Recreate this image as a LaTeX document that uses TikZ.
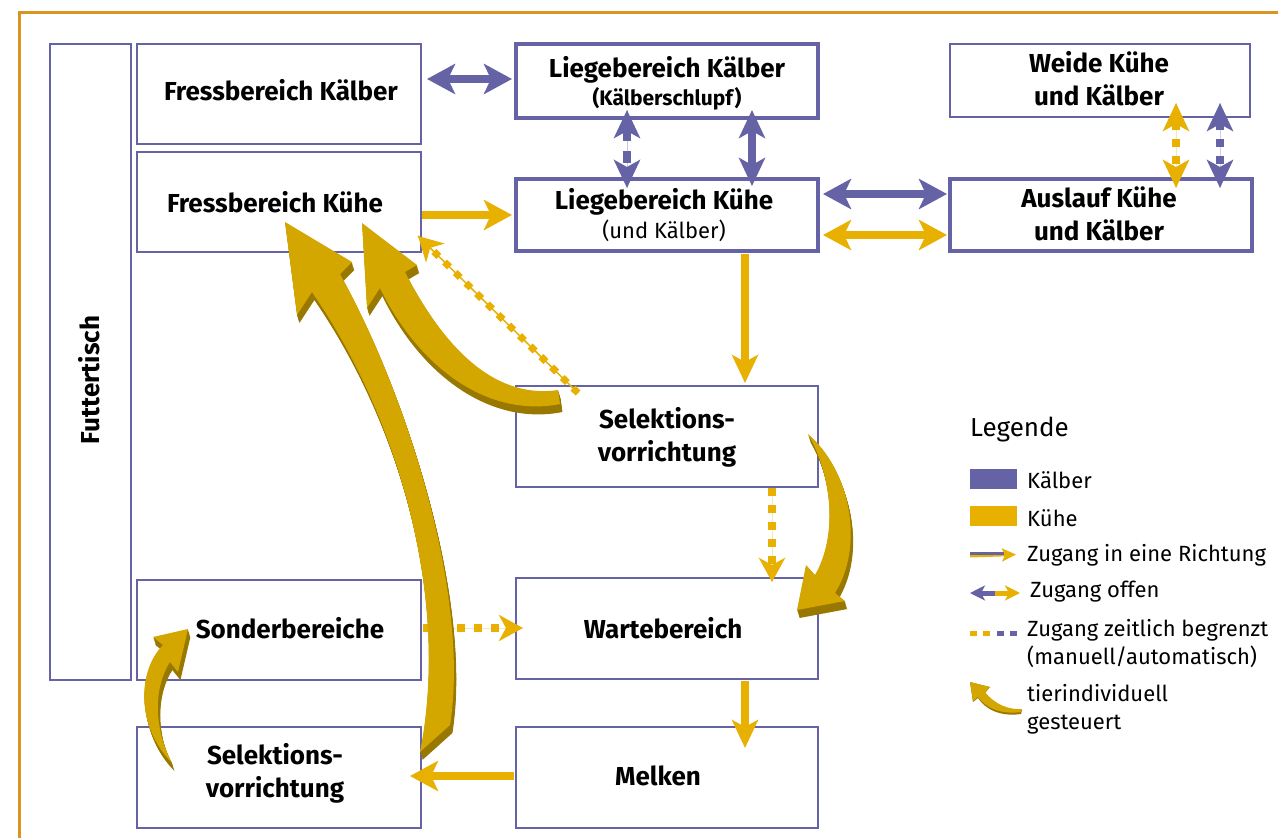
\documentclass[tikz,border=0pt]{standalone}
\usepackage{fontspec}
\setmainfont{Fira Sans}
\usetikzlibrary{arrows.meta,calc}
\definecolor{purp}{RGB}{101,99,165}
\definecolor{cow}{RGB}{232,176,0}
\definecolor{gold}{RGB}{212,166,0}
\definecolor{golddk}{RGB}{152,120,0}
\definecolor{framec}{RGB}{218,148,32}
\newcommand\goldarrow[1]{%
  \foreach \k in {8,7,...,1}{\fill[golddk, shift={(0.3*\k,\k)}] #1;}
  \fill[gold] #1;}
\tikzset{
  bt/.tip={Stealth[length=28pt,width=30pt,inset=7pt]},
  vt/.tip={Stealth[length=28pt,width=26pt,inset=7pt]},
  st/.tip={Stealth[length=24pt,width=26pt,inset=7pt]},
}
\begin{document}
\begin{tikzpicture}[x=1pt,y=-1pt,
  box/.style={draw=purp, line width=1.5pt, fill=white, outer sep=0pt, inner sep=0pt},
  tbox/.style={box, line width=3.5pt},
  lbl/.style={font=\bfseries\fontsize{26}{33}\selectfont, align=center, inner sep=0pt},
  subb/.style={font=\bfseries\fontsize{21}{24}\selectfont, inner sep=0pt},
  subr/.style={font=\fontsize{22}{25}\selectfont, inner sep=0pt},
  leg/.style={font=\fontsize{22}{28}\selectfont, anchor=west, inner sep=0pt, align=left},
  parr/.style={draw=purp, line width=8pt},
  carr/.style={draw=cow, line width=8pt},
  dsq/.style={line width=8pt, dash pattern=on 8pt off 9pt},
]
\clip (0,0) rectangle (1278,838);
\fill[white] (0,0) rectangle (1278,838);
\draw[framec, line width=3pt] (19.5,1000) -- (19.5,12.5) -- (1400,12.5);

% boxes
\node[box, minimum width=81pt, minimum height=636pt] (ft) at (90.5,362) {};
\node[box, minimum width=284pt, minimum height=100pt] (fk) at (279,94) {};
\node[box, minimum width=284pt, minimum height=100pt] (fkue) at (279,202) {};
\node[tbox, minimum width=302pt, minimum height=74pt] (lk) at (667,81) {};
\node[tbox, minimum width=302pt, minimum height=72pt] (lkue) at (667,215) {};
\node[box, minimum width=300pt, minimum height=73pt] (weide) at (1100,80.5) {};
\node[tbox, minimum width=302pt, minimum height=72pt] (aus) at (1101,215) {};
\node[box, minimum width=302pt, minimum height=101pt] (sel1) at (667,436.5) {};
\node[box, minimum width=284pt, minimum height=100pt] (sond) at (279,630) {};
\node[box, minimum width=302pt, minimum height=101pt] (wart) at (667,628.5) {};
\node[box, minimum width=284pt, minimum height=101pt] (sel2) at (279,777.5) {};
\node[box, minimum width=302pt, minimum height=101pt] (melk) at (667,777.5) {};

% texts
\node[lbl, rotate=90] (t-ft) at (89,380) {Futtertisch};
\node[lbl] (t-fk) at (281,90) {Fressbereich Kälber};
\node[lbl] (t-fkue) at (275,202) {Fressbereich Kühe};
\node[lbl] (t-lk1) at (667,70) {Liegebereich Kälber};
\node[subb] (t-lk2) at (667,99) {(Kälberschlupf)};
\node[lbl] (t-lkue1) at (664,202) {Liegebereich Kühe};
\node[subr] (t-lkue2) at (664,231) {(und Kälber)};
\node[lbl] (t-weide) at (1099,79) {Weide Kühe\\und Kälber};
\node[lbl] (t-aus) at (1099,214) {Auslauf Kühe\\und Kälber};
\node[lbl] (t-sel1) at (667,437) {Selektions-\\vorrichtung};
\node[lbl] (t-wart) at (663,628) {Wartebereich};
\node[lbl] (t-sond) at (290,628) {Sonderbereiche};
\node[lbl] (t-sel2) at (275,773) {Selektions-\\vorrichtung};
\node[lbl] (t-melk) at (658,776) {Melken};

% connectors
\draw[parr, bt-bt] ($(fk.east)+(6,-15)$) -- ($(lk.west)+(-4,-2)$);
\draw[parr, vt-vt, dash pattern=on 12pt off 10pt, preaction={draw=purp!35, line width=1pt, solid, -}] ($(lk.south)+(-40,-8)$) -- ($(lkue.north)+(-40,9)$);
\draw[parr, vt-vt] ($(lk.south)+(85,-8)$) -- ($(lkue.north)+(85,7)$);
\draw[carr, -bt] ($(fkue.east)+(1,13)$) -- ($(lkue.west)+(-4,0)$);
\draw[parr, bt-bt] ($(lkue.east)+(5,-21)$) -- ($(aus.west)+(-3,-21)$);
\draw[carr, bt-bt] ($(lkue.east)+(5,20)$) -- ($(aus.west)+(-3,20)$);
\draw[draw=cow, dsq, vt-vt, preaction={draw=cow!30, line width=1pt, solid, -}] ($(weide.south)+(76,-14)$) -- ($(aus.north)+(75,9)$);
\draw[draw=purp, dsq, vt-vt, preaction={draw=purp!30, line width=1pt, solid, -}] ($(weide.south)+(120,-14)$) -- ($(aus.north)+(119,9)$);
\draw[carr, -vt] ($(lkue.south)+(78,3)$) -- ($(sel1.north)+(78,-3)$);
\draw[draw=cow, line width=7pt, dash pattern=on 7pt off 8pt, -{Stealth[length=24pt,width=26pt,inset=7pt]}, preaction={draw=cow, line width=1.5pt, solid, -}] ($(sel1.north west)+(62,7)$) -- ($(fkue.south east)+(-3,-16)$);
\draw[draw=cow, dsq, -st, preaction={draw=cow!30, line width=1pt, solid, -}] ($(sel1.south)+(105,1)$) -- ($(wart.north)+(105,4)$);
\draw[draw=cow, dsq, -st, preaction={draw=cow!30, line width=1pt, solid, -}] ($(sond.east)+(2,-2)$) -- ($(wart.west)+(7,-0.5)$);
\draw[carr, -vt] ($(wart.south)+(78,2)$) -- ($(melk.north)+(78,21)$);
\draw[carr, -bt] ($(melk.west)+(-2,-1.5)$) -- ($(sel2.east)+(-11,-1.5)$);

% individually steered 3D arrows
\goldarrow{(285,222) -- (352,262) -- (340,274) .. controls (410,400) and (470,600) .. (450,725) -- (420,752) .. controls (450,600) and (400,420) .. (312,292) -- (297,315) -- cycle}
\goldarrow{(362,223) -- (417,265) -- (405,272) .. controls (440,340) and (490,400) .. (558,390) -- (560,404) .. controls (490,418) and (420,370) .. (380,288) -- (367,308) -- cycle}
\goldarrow{(808,434) .. controls (850,470) and (865,545) .. (835,593) -- (845,601) -- (797,610) -- (806,565) -- (815,575) .. controls (838,535) and (832,475) .. (808,434) -- cycle}
\goldarrow{(172,763) .. controls (152,725) and (155,685) .. (170,662) -- (178,672) -- (188,629) -- (153,637) -- (163,645) .. controls (138,670) and (135,725) .. (172,763) -- cycle}

% legend
\node[leg, font=\fontsize{26}{30}\selectfont] (l-title) at (970,430) {Legende};
\fill[purp] (970,469) rectangle (1017,489);
\fill[cow] (970,506) rectangle (1017,526);
\node[leg] (l-k) at (1027,480) {Kälber};
\node[leg] (l-c) at (1027,518) {Kühe};
\draw[cow, line width=3pt, -{Stealth[length=14pt,width=13pt,inset=3pt]}] (970,556) -- (1016,554.5);
\draw[purp, line width=3pt] (970,553) -- (1004,553);
\node[leg] (l-r) at (1027,555) {Zugang in eine Richtung};
\draw[purp, line width=5pt, {Stealth[length=15pt,width=15pt,inset=4pt]}-] (970,593) -- (996,593);
\draw[cow, line width=5pt, -{Stealth[length=15pt,width=15pt,inset=4pt]}] (995,593) -- (1020,593);
\node[leg] (l-o) at (1030,592) {Zugang offen};
\fill[cow] (970,630.5) rectangle (977,635.5);
\fill[cow] (983,630.5) rectangle (990,635.5);
\fill[purp] (997,630.5) rectangle (1004,635.5);
\fill[purp] (1010,630.5) rectangle (1017,635.5);
\node[leg] (l-z) at (1027,644) {Zugang zeitlich begrenzt\\(manuell/automatisch)};
\fill[golddk] (970,682) -- (990,687) -- (985,693) .. controls (995,707) and (1010,712) .. (1022,710) -- (1021,714) .. controls (1000,717) and (985,709) .. (978,698) -- (973,702) -- cycle;
\fill[gold] (970,682) -- (990,687) -- (985,692) .. controls (995,705) and (1010,710) .. (1022,709) -- (1021,712) .. controls (1000,715) and (985,707) .. (978,697) -- (973,701) -- cycle;
\node[leg] (l-t) at (1027,709) {tierindividuell\\gesteuert};
\end{tikzpicture}
\end{document}
